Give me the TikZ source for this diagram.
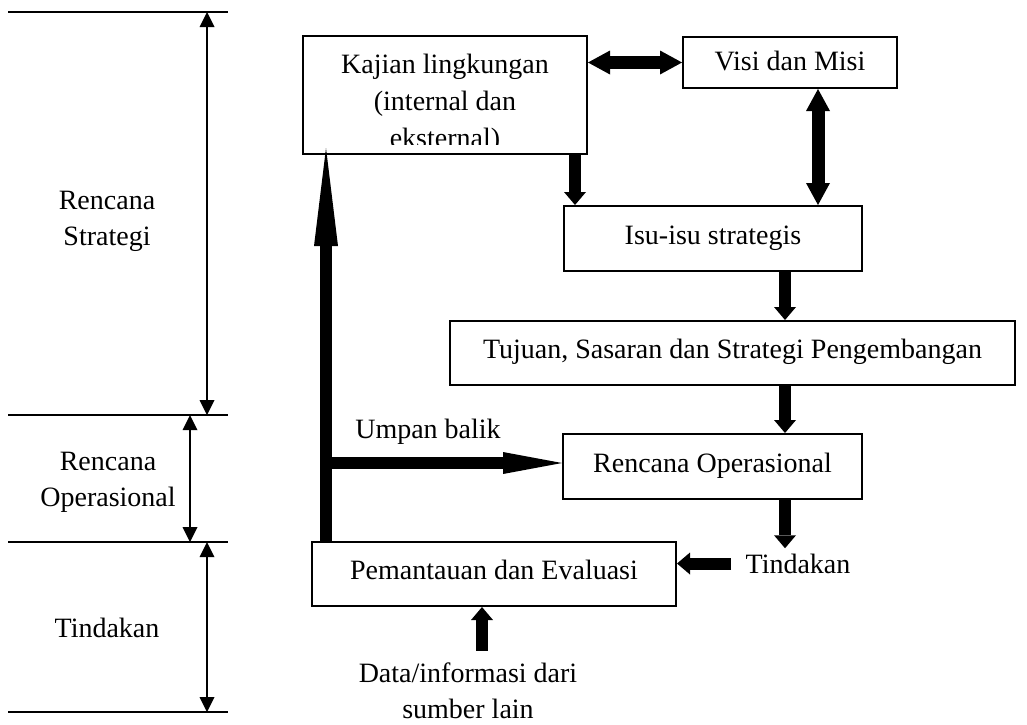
\documentclass[tikz,border=0pt]{standalone}
\usepackage{fontspec}
\setmainfont{Liberation Serif}
\usetikzlibrary{arrows.meta}

\begin{document}
\begin{tikzpicture}[
  x=0.5pt, y=-0.5pt,
  font=\fontsize{14}{18}\selectfont,
  box/.style={draw, line width=1pt, align=center, inner sep=0pt,
    text height=9.6pt, text depth=4pt},
  txt/.style={align=center, inner sep=2.5pt},
  rule/.style={line width=0.75pt},
  arrow/.style={-{Triangle[length=6.5pt, width=11pt, line width=0pt]}, line width=6pt},
  dblarrow/.style={{Triangle[length=11pt, width=12pt, line width=0pt]}-{Triangle[length=11pt, width=12pt, line width=0pt]}, line width=6.5pt},
  fbarrow/.style={-{Triangle[length=29.5pt, width=11pt, line width=0pt]}, line width=6pt},
  bigarrow/.style={-{Triangle[length=49pt, width=12pt, line width=0pt]}, line width=6pt},
  thinarrow/.style={{Triangle[length=7.5pt, width=7.5pt, line width=0pt]}-{Triangle[length=7.5pt, width=7.5pt, line width=0pt]}, line width=1pt}
]
\useasboundingbox (0,0) rectangle (1027,724);

\draw[rule] (8,12) -- (228,12);
\draw[rule] (8,415) -- (228,415);
\draw[rule] (8,542) -- (228,542);
\draw[rule] (8,712) -- (228,712);

\coordinate (strtop) at (207,12);
\coordinate (strbot) at (207,415);
\coordinate (optop) at (190,415);
\coordinate (opbot) at (190,542);
\coordinate (acttop) at (207,542);
\coordinate (actbot) at (207,712);

\node[txt] (lblstrategi) at (107,221) {Rencana\\Strategi};
\node[txt] (lblops) at (108,482) {Rencana\\Operasional};
\node[txt] (lbltindakan) at (107,628) {Tindakan};

\draw[thinarrow] (strtop) -- (strbot);
\draw[thinarrow] (optop) -- (opbot);
\draw[thinarrow] (acttop) -- (actbot);

\node[box, minimum width=142pt, minimum height=59pt] (kajian) at (445,95) {};
\begin{scope}
  \clip (kajian.north west) rectangle ([yshift=5.5pt]kajian.south east);
  \node[txt, font=\fontsize{14}{18.5}\selectfont] (kajiantext) at (445,104)
    {Kajian lingkungan\\(internal dan\\eksternal)};
\end{scope}
\node[box, minimum width=107pt, minimum height=25.5pt, text depth=2pt] (visi) at (790,62.5) {Visi dan Misi};
\node[box, minimum width=149pt, minimum height=32.5pt] (isu) at (713,238.5) {Isu-isu strategis};
\node[box, minimum width=282.5pt, minimum height=32pt] (tujuan) at (732.5,353) {Tujuan, Sasaran dan Strategi Pengembangan};
\node[box, minimum width=149.5pt, minimum height=32.5pt] (renop) at (712.5,466.5) {Rencana Operasional};
\node[box, minimum width=182pt, minimum height=32pt] (pantau) at (494,574) {Pemantauan dan Evaluasi};

\node[txt] (umpan) at (428,432) {Umpan balik};
\node[txt] (tindakan) at (798,563.5) {Tindakan};
\node[txt] (data) at (468,691) {Data/informasi dari\\sumber lain};

\coordinate (fbfoot) at ([xshift=7.5pt]pantau.north west);
\coordinate (fbjoin) at (321,463);

\draw[dblarrow] (visi.west -| kajian.east) -- (visi.west);
\draw[arrow] ([xshift=65pt]kajian.south) -- ([xshift=65pt]kajian.south |- isu.north);
\draw[dblarrow] ([xshift=14pt]visi.south) -- ([xshift=14pt]visi.south |- isu.north);
\draw[arrow] ([xshift=36pt]isu.south) -- ([xshift=36pt]isu.south |- tujuan.north);
\draw[arrow] ([xshift=36.25pt]renop.north |- tujuan.south) -- ([xshift=36.25pt]renop.north);
\draw[arrow] ([xshift=36.25pt]renop.south) -- ([xshift=36.25pt]renop.south |- tindakan.north);
\draw[arrow] ([xshift=-4.5pt]tindakan.west) -- (tindakan.west -| pantau.east);
\draw[arrow, shorten <=3.5pt] ([xshift=-6pt]pantau.south |- data.north) -- ([xshift=-6pt]pantau.south);
\draw[bigarrow, shorten >=-3.5pt] (fbfoot) -- (fbfoot |- kajian.south);
\draw[fbarrow] (fbjoin) -- (fbjoin -| renop.west);
\end{tikzpicture}
\end{document}
